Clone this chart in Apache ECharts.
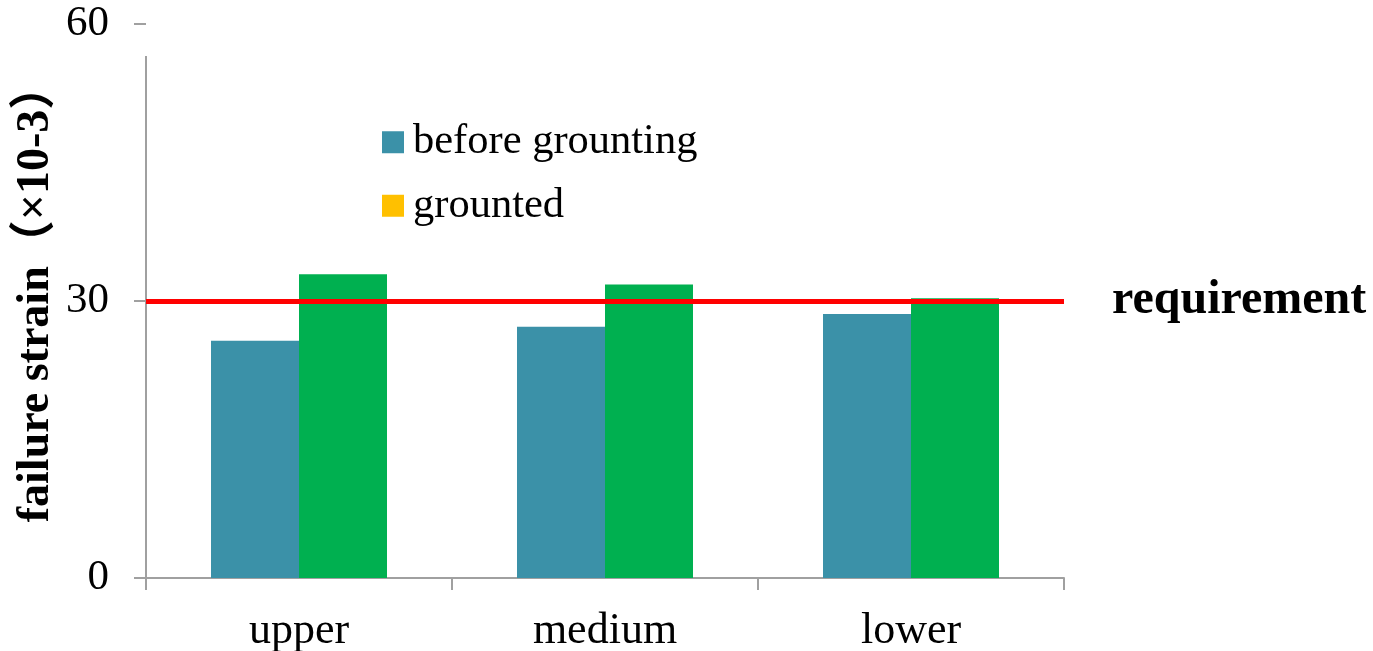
<!DOCTYPE html>
<html>
<head>
<meta charset="utf-8">
<script src="https://cdn.jsdelivr.net/npm/echarts@6/dist/echarts.min.js"></script>
<style>
  html, body { margin: 0; padding: 0; background: #ffffff; }
  #chart { width: 1373px; height: 651px; }
</style>
</head>
<body>
<div id="chart"></div>
<script>
// Failure strain by position, before and after grouting
const categories = ['upper', 'medium', 'lower'];
const beforeGrounting = [25.7, 27.2, 28.6];
const grounted = [32.9, 31.8, 30.3];
const requirement = 30;
const yTicks = [0, 30, 60];

const FONT = '"Liberation Serif", "Times New Roman", "Noto Sans CJK SC", serif';
const AXIS_GRAY = '#A0A0A0';
const GRID = { left: 146, top: 24, right: 309, bottom: 73 };

const chart = echarts.init(document.getElementById('chart'), null, { renderer: 'canvas' });

chart.setOption({
  backgroundColor: '#ffffff',
  animation: false,
  textStyle: { fontFamily: FONT },
  grid: {
    left: GRID.left, top: GRID.top, right: GRID.right, bottom: GRID.bottom,
    containLabel: false,
    outerBoundsMode: 'none'
  },
  legend: {
    orient: 'vertical',
    left: 382,
    top: 121,
    padding: 0,
    itemWidth: 22,
    itemHeight: 22,
    itemGap: 21,
    icon: 'rect',
    textStyle: { fontFamily: FONT, fontSize: 42.5, color: '#000', padding: [0, 0, 0, 4] },
    data: [
      { name: 'before grounting' },
      { name: 'grounted', itemStyle: { color: '#FFC000' } }
    ]
  },
  xAxis: {
    type: 'category',
    data: categories,
    axisLine: { show: true, lineStyle: { color: AXIS_GRAY, width: 2 } },
    axisTick: { show: true, length: 12, lineStyle: { color: AXIS_GRAY, width: 2 } },
    axisLabel: { fontFamily: FONT, fontSize: 44, color: '#000', margin: 31 }
  },
  yAxis: {
    type: 'value',
    min: yTicks[0],
    max: yTicks[yTicks.length - 1],
    interval: yTicks[1] - yTicks[0],
    name: 'failure strain（×10-3）',
    nameLocation: 'middle',
    nameGap: 87,
    nameMoveOverlap: false,
    nameTextStyle: {
      fontFamily: FONT, fontSize: 46, fontWeight: 'bold', color: '#000',
      padding: [0, 0, 0, 16]
    },
    axisLine: { show: false },
    axisTick: { show: true, length: 12, lineStyle: { color: AXIS_GRAY, width: 2 } },
    axisLabel: { fontFamily: FONT, fontSize: 43, color: '#000', margin: 37 },
    splitLine: { show: false }
  },
  series: [
    {
      name: 'before grounting',
      type: 'bar',
      data: beforeGrounting,
      barWidth: 88,
      barGap: '0%',
      itemStyle: { color: '#3B91A8' }
    },
    {
      name: 'grounted',
      type: 'bar',
      data: grounted,
      barWidth: 88,
      barGap: '0%',
      itemStyle: { color: '#00B050' },
      markLine: {
        silent: true,
        symbol: ['none', 'none'],
        lineStyle: { color: '#FF0000', width: 5, type: 'solid' },
        label: {
          show: true,
          position: 'end',
          distance: 48,
          formatter: 'requirement',
          fontFamily: FONT,
          fontSize: 48,
          fontWeight: 'bold',
          color: '#000'
        },
        data: [{ yAxis: requirement }]
      }
    }
  ],
  // vertical axis line, which stops short of the top tick
  graphic: [
    {
      type: 'line',
      silent: true,
      shape: { x1: GRID.left, y1: GRID.top + 32, x2: GRID.left, y2: 651 - GRID.bottom },
      style: { stroke: AXIS_GRAY, lineWidth: 2 },
      z: 5
    }
  ]
});
</script>
</body>
</html>
